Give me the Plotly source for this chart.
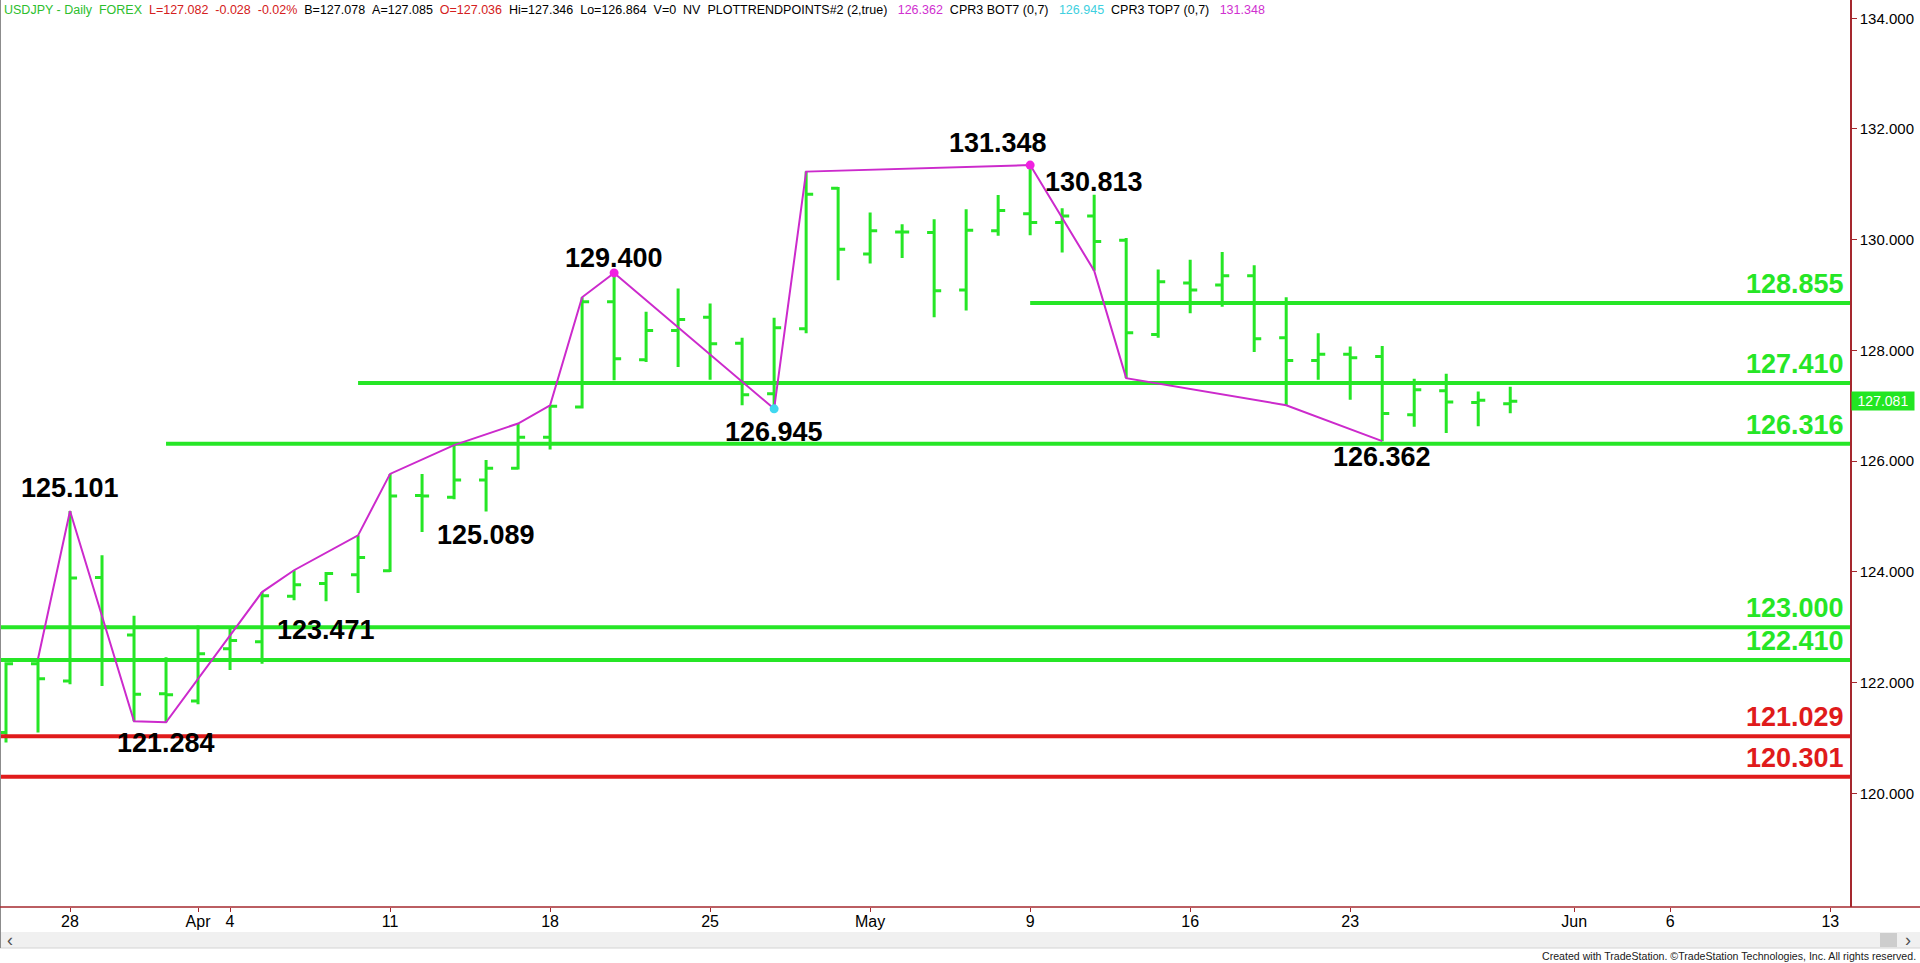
import plotly.graph_objects as go

# ---------------- data ----------------
bar_dates = ["Mar 24", "Mar 25", "Mar 28", "Mar 29", "Mar 30", "Mar 31",
             "Apr 1", "Apr 4", "Apr 5", "Apr 6", "Apr 7", "Apr 8",
             "Apr 11", "Apr 12", "Apr 13", "Apr 14", "Apr 15",
             "Apr 18", "Apr 19", "Apr 20", "Apr 21", "Apr 22",
             "Apr 25", "Apr 26", "Apr 27", "Apr 28", "Apr 29",
             "May 2", "May 3", "May 4", "May 5", "May 6",
             "May 9", "May 10", "May 11", "May 12", "May 13",
             "May 16", "May 17", "May 18", "May 19", "May 20",
             "May 23", "May 24", "May 25", "May 26", "May 27", "May 30"]
opens = [121.10, 122.34, 122.03, 123.90, 122.86, 121.80,
         121.67, 122.61, 122.74, 123.56, 123.79, 123.95,
         124.02, 125.38, 125.35, 125.66, 125.87,
         126.43, 126.98, 128.88, 127.83, 128.36,
         128.60, 128.13, 127.22, 128.39, 130.93,
         129.74, 130.14, 130.13, 129.09, 130.16,
         130.47, 130.31, 130.43, 129.99, 128.29,
         129.22, 129.18, 129.35, 128.23, 127.82,
         127.93, 127.89, 126.84, 127.27, 127.06, 127.036]
highs = [122.37, 122.43, 125.101, 124.30, 123.21, 122.46,
         123.03, 122.97, 123.635, 124.03, 124.00, 124.66,
         125.77, 125.77, 126.29, 126.02, 126.68,
         127.01, 128.96, 129.400, 128.70, 129.12,
         128.85, 128.23, 128.59, 131.23, 130.95,
         130.49, 130.28, 130.37, 130.55, 130.81,
         131.348, 130.57, 130.813, 130.03, 129.46,
         129.64, 129.78, 129.54, 128.96, 128.31,
         128.07, 128.08, 127.49, 127.58, 127.26, 127.346]
lows = [120.92, 121.10, 121.97, 121.94, 121.30, 121.284,
        121.61, 122.23, 122.34, 123.49, 123.471, 123.62,
        124.00, 124.72, 125.31, 125.089, 125.85,
        126.21, 126.95, 127.46, 127.79, 127.70,
        127.47, 127.01, 126.945, 128.31, 129.27,
        129.57, 129.67, 128.60, 128.72, 130.07,
        130.08, 129.77, 129.44, 127.50, 128.23,
        128.67, 128.79, 127.97, 127.01, 127.47,
        127.11, 126.362, 126.62, 126.51, 126.63, 126.864]
closes = [122.34, 122.07, 123.89, 123.00, 121.79, 121.78,
          122.52, 122.76, 123.57, 123.77, 123.97, 124.26,
          125.37, 125.37, 125.66, 125.87, 126.43,
          126.99, 128.88, 127.85, 128.36, 128.56,
          128.12, 127.20, 128.41, 130.82, 129.83,
          130.16, 130.14, 129.08, 130.17, 130.53,
          130.31, 130.43, 129.97, 128.32, 129.24,
          129.09, 129.35, 128.21, 127.82, 127.93,
          127.87, 126.86, 127.29, 127.07, 127.10, 127.082]

tick_idx = [2, 6, 7, 12, 17, 22, 27, 32, 37, 42, 49, 52, 57]
tick_text = ["28", "Apr", "4", "11", "18", "25", "May", "9", "16", "23", "Jun", "6", "13"]
price_ticks = [120, 122, 124, 126, 128, 130, 132, 134]

trend_idx = [1, 2, 4, 5, 8, 9, 11, 12, 14, 16, 17, 18, 19, 24, 25, 32, 34, 35, 40, 43]
trend_val = [122.43, 125.101, 121.30, 121.284, 123.635, 124.03, 124.66, 125.77, 126.29,
             126.68, 127.01, 128.96, 129.400, 126.945, 131.23, 131.348, 129.44, 127.50,
             127.01, 126.362]

pivot_top_idx = [19, 32]
pivot_top_val = [129.400, 131.348]
pivot_bot_idx = [24]
pivot_bot_val = [126.945]

level_vals = [128.855, 127.410, 126.316, 123.000, 122.410, 121.029, 120.301]
level_start_idx = [32, 11, 5, None, None, None, None]
level_kind = ["g", "g", "g", "g", "g", "r", "r"]

callout_text = ["125.101", "121.284", "123.471", "125.089", "129.400",
                "126.945", "131.348", "130.813", "126.362"]
callout_idx = [2, 5, 10, 15, 19, 24, 32, 34, 43]
callout_val = [125.101, 121.284, 123.471, 125.089, 129.400, 126.945, 131.348, 130.813, 126.362]

last_price = 127.081

# ---------------- styles / layout ----------------
W, H = 1920, 963
PW, PH = 1850, 907          # plot area in px (left=0, top=0)
XMIN, XMAX = -0.1875, 57.616
YMIN, YMAX = 117.947, 134.33

GREEN = "#26E626"
RED = "#E01B1B"
MAGENTA = "#CC2ACC"
AXIS = "#A5282E"
FONT = "Liberation Sans, Arial, sans-serif"

callout_yshift = [23, -21, -29, -23, 15, -23, 22, 13, -16]
callout_xshift = [0, 0, 0, 0, 0, 0, -32, 0, 0]


def px(x):
    return x / PW


def py(y):
    return 1 - y / PH


fig = go.Figure()

# horizontal levels
for v, s, k in zip(level_vals, level_start_idx, level_kind):
    x0 = XMIN if s is None else s
    fig.add_trace(go.Scatter(x=[x0, XMAX], y=[v, v], mode="lines",
                             line=dict(color=GREEN if k == "g" else RED, width=4),
                             hoverinfo="skip"))

# price bars
fig.add_trace(go.Ohlc(x=list(range(len(opens))), open=opens, high=highs, low=lows, close=closes,
                      increasing=dict(line=dict(color=GREEN, width=3)),
                      decreasing=dict(line=dict(color=GREEN, width=3)),
                      tickwidth=0.22, text=bar_dates))

# trend line
fig.add_trace(go.Scatter(x=trend_idx, y=trend_val, mode="lines",
                         line=dict(color=MAGENTA, width=2)))
fig.add_trace(go.Scatter(x=pivot_top_idx, y=pivot_top_val, mode="markers",
                         marker=dict(color="#F020E0", size=9)))
fig.add_trace(go.Scatter(x=pivot_bot_idx, y=pivot_bot_val, mode="markers",
                         marker=dict(color="#40D8F0", size=9)))

ann = []
for t, i, v, ys, xs in zip(callout_text, callout_idx, callout_val, callout_yshift, callout_xshift):
    ann.append(dict(x=i, y=v, xref="x", yref="y", text="<b>%s</b>" % t, showarrow=False,
                    xanchor="center", yanchor="middle", yshift=ys, xshift=xs,
                    font=dict(family=FONT, size=27, color="black")))

for v, k in zip(level_vals, level_kind):
    ann.append(dict(x=1, y=v, xref="paper", yref="y", text="<b>%.3f</b>" % v, showarrow=False,
                    xanchor="right", yanchor="middle", yshift=19, xshift=-4,
                    font=dict(family=FONT, size=27, color=GREEN if k == "g" else RED)))

# last price box
ann.append(dict(x=px(1851), y=last_price, xref="paper", yref="y", text="%.3f" % last_price,
                showarrow=False, xanchor="left", yanchor="middle", bgcolor="#22E622",
                width=60, borderpad=1, font=dict(family=FONT, size=14, color="white")))

# header
sp2 = "\u00a0\u00a0"
sp3 = "\u00a0\u00a0\u00a0"
header_parts = [
    ("USDJPY - Daily" + sp2 + "FOREX", "#2DBE2D"),
    (sp2 + "L=127.082" + sp2 + "-0.028" + sp2 + "-0.02%", "#D42020"),
    (sp2 + "B=127.078" + sp2 + "A=127.085", "#000000"),
    (sp2 + "O=127.036", "#D42020"),
    (sp2 + "Hi=127.346" + sp2 + "Lo=126.864" + sp2 + "V=0" + sp2 + "NV" + sp2 + "PLOTTRENDPOINTS#2 (2,true)", "#000000"),
    (sp3 + "126.362", "#D030D0"),
    (sp2 + "CPR3 BOT7 (0,7)", "#000000"),
    (sp3 + "126.945", "#40D0E0"),
    (sp2 + "CPR3 TOP7 (0,7)", "#000000"),
    (sp3 + "131.348", "#D030D0"),
]
header = "".join("<span style='color:%s'>%s</span>" % (c, t) for t, c in header_parts)
ann.append(dict(x=px(2), y=py(10), xref="paper", yref="paper", text=header, showarrow=False,
                xanchor="left", yanchor="middle", font=dict(family=FONT, size=12.5, color="black")))

# scrollbar arrows and credit
ann.append(dict(x=px(10), y=py(940), xref="paper", yref="paper", text="\u2039", showarrow=False,
                xanchor="center", yanchor="middle", font=dict(family=FONT, size=18, color="#505050")))
ann.append(dict(x=px(1908), y=py(940), xref="paper", yref="paper", text="\u203a", showarrow=False,
                xanchor="center", yanchor="middle", font=dict(family=FONT, size=18, color="#505050")))
ann.append(dict(x=px(1918), y=py(956), xref="paper", yref="paper",
                text="Created with TradeStation. \u00a9TradeStation Technologies, Inc. All rights reserved.",
                showarrow=False, xanchor="right", yanchor="middle",
                font=dict(family="Liberation Sans Narrow, Arial Narrow, " + FONT, size=10.6, color="#202020")))

shapes = [
    # scrollbar
    dict(type="rect", xref="paper", yref="paper", x0=px(0), x1=px(W), y0=py(948), y1=py(932),
         fillcolor="#F0F0F0", line=dict(width=0), layer="above"),
    dict(type="line", xref="paper", yref="paper", x0=px(0), x1=px(W), y0=py(948), y1=py(948),
         line=dict(color="#D4D4D4", width=1)),
    dict(type="rect", xref="paper", yref="paper", x0=px(1880), x1=px(1897), y0=py(947), y1=py(933),
         fillcolor="#CDCDCD", line=dict(width=0)),
    # left border
    dict(type="line", xref="paper", yref="paper", x0=px(0.5), x1=px(0.5), y0=py(0), y1=py(948),
         line=dict(color="#8C8C8C", width=1)),
    # bottom axis line spanning full width
    dict(type="line", xref="paper", yref="paper", x0=px(0), x1=px(W), y0=0, y1=0,
         line=dict(color=AXIS, width=1.5)),
]

fig.update_layout(
    width=W, height=H,
    margin=dict(l=0, r=W - PW, t=0, b=H - PH, pad=0),
    paper_bgcolor="white", plot_bgcolor="white",
    showlegend=False,
    annotations=ann,
    shapes=shapes,
    xaxis=dict(range=[XMIN, XMAX], tickvals=tick_idx, ticktext=tick_text,
               showgrid=False, zeroline=False, showline=False,
               ticks="outside", ticklen=4, tickcolor=AXIS, tickwidth=1,
               tickfont=dict(family=FONT, size=16, color="black"),
               rangeslider=dict(visible=False), fixedrange=True),
    yaxis=dict(range=[YMIN, YMAX], side="right", tickvals=price_ticks,
               ticktext=["%.3f" % v for v in price_ticks],
               showgrid=False, zeroline=False, showline=True, linecolor=AXIS, linewidth=1.5,
               ticks="outside", ticklen=5, tickcolor=AXIS, tickwidth=1,
               tickfont=dict(family=FONT, size=15, color="black"), fixedrange=True),
)
try:
    fig.update_xaxes(ticklabelstandoff=-4)
except Exception:
    pass

fig.write_html("out.html", config={"displayModeBar": False},
               post_script="document.body.style.margin='0';document.body.style.overflow='hidden';")
